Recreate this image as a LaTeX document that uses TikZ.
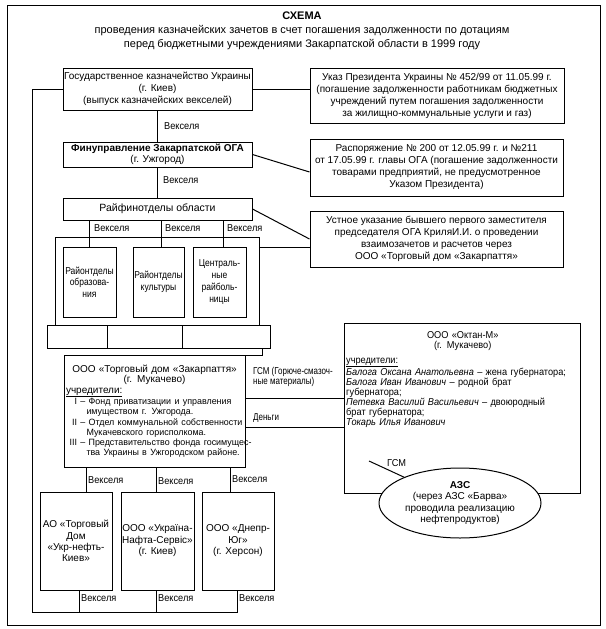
\documentclass[tikz,border=0pt]{standalone}
\usepackage{fontspec}
\setmainfont{Liberation Sans}
\newfontfamily\nf[FakeStretch=0.85]{Liberation Sans}
\newfontfamily\tf[FakeStretch=0.8]{Liberation Sans}
\newfontfamily\wf[FakeStretch=0.98]{Liberation Sans}
\newfontfamily\of[FakeStretch=0.92]{Liberation Sans}
\newfontfamily\vf[FakeStretch=0.92]{Liberation Sans}
\newcommand{\tdit}[1]{\mbox{\wf\fontsize{9.1}{10.25}\selectfont #1}}
\usetikzlibrary{shapes.geometric,calc}
\begin{document}
\begin{tikzpicture}[x=1pt,y=-1pt,
  every node/.style={inner sep=0pt, font=\fontsize{10}{12}\selectfont},
  box/.style={draw, line width=1pt, align=center, fill=white},
  lbl/.style={anchor=west, font=\vf\fontsize{10}{11}\selectfont},
  ln/.style={line width=1pt}
]
\useasboundingbox (0,0) rectangle (605,629);
\draw[ln] (7,5) rectangle (600,625);

\node[align=center, font=\fontsize{11}{14}\selectfont] (title) at (302,30.5)
  {\textbf{СХЕМА}\\проведения казначейских зачетов в счет погашения задолженности по дотациям\\перед бюджетными учреждениями Закарпатской области в 1999 году};

% left column
\node[box, minimum width=189, minimum height=42] (A) at (157.5,89)
  {Государственное казначейство Украины\\(г. Киев)\\(выпуск казначейских векселей)};
\node[box, minimum width=189, minimum height=25, font=\fontsize{10}{11}\selectfont] (F) at (157.5,154.5)
  {\textbf{Финуправление Закарпатской ОГА}\\(г. Ужгород)};
\node[box, minimum width=189, minimum height=22, font=\fontsize{10.5}{12}\selectfont] (R) at (157.5,209) {Райфинотделы области};

% right column
\node[box, minimum width=254, minimum height=55] (U) at (437,95.5)
  {Указ Президента Украины № 452/99 от 11.05.99 г.\\(погашение задолженности работникам бюджетных\\учреждений путем погашения задолженности\\за жилищно-коммунальные услуги и газ)};
\node[box, minimum width=253, minimum height=57] (Rs) at (436.5,167.5)
  {Распоряжение № 200 от 12.05.99 г. и №211\\от 17.05.99 г. главы ОГА (погашение задолженности\\товарами предприятий, не предусмотренное\\Указом Президента)};
\node[box, minimum width=253, minimum height=56] (Us) at (436.5,239)
  {Устное указание бывшего первого заместителя\\председателя ОГА КриляИ.И. о проведении\\взаимозачетов и расчетов через\\ООО «Торговый дом «Закарпаття»};

% group of budget institutions
\node[box, minimum width=204, minimum height=88] (G) at (157,281) {};
\node[box, minimum width=53, minimum height=70, font=\nf\fontsize{10}{11.5}\selectfont] (B1) at (89.5,282) {Районтделы\\образова-\\ния};
\node[box, minimum width=51, minimum height=70, font=\nf\fontsize{10}{11.5}\selectfont] (B2) at (158.5,282) {Районтделы\\культуры};
\node[box, minimum width=53, minimum height=70, font=\nf\fontsize{10}{12}\selectfont] (B3) at (219.5,282) {Централь-\\ные\\райболь-\\ницы};
\node[box, minimum width=60, minimum height=23] (S1) at (77,336.5) {};
\node[box, minimum width=75, minimum height=23] (S2) at (144.5,336.5) {};
\node[box, minimum width=88, minimum height=23] (S3) at (226,336.5) {};

% trading house
\node[box, minimum width=181, minimum height=112, text width=177, align=left, font=\fontsize{10}{10.25}\selectfont] (TD) at (154.5,411.5)
  {\makebox[\linewidth]{ООО «Торговый дом «Закарпаття»}\\
   \makebox[\linewidth]{(г. Мукачево)}\\
   \underline{учредители:}\\
   \tdit{\makebox[11pt][r]{I} – Фонд приватизации и управления}\\
   \tdit{\hspace*{20.5pt}имуществом г. Ужгорода.}\\
   \tdit{\makebox[11pt][r]{II} – Отдел коммунальной собственности}\\
   \tdit{\hspace*{20.5pt}Мукачевского горисполкома.}\\
   \tdit{\makebox[11pt][r]{III} – Представительство фонда госимущес-}\\
   \tdit{\hspace*{20.5pt}тва Украины в Ужгородском районе.}};

% oil companies
\node[box, minimum width=72, minimum height=98, font=\fontsize{10}{11.3}\selectfont] (T1) at (76,541) {АО «Торговый\\Дом\\«Укр-нефть-\\Киев»};
\node[box, minimum width=73, minimum height=98, font=\fontsize{10}{11.5}\selectfont] (T2) at (157.5,541) {ООО «Україна-\\Нафта-Сервіс»\\(г. Киев)};
\node[box, minimum width=72, minimum height=98, font=\fontsize{10}{11.5}\selectfont] (T3) at (238,541) {ООО «Днепр-\\Юг»\\(г. Херсон)};

% Oktan-M
\node[box, minimum width=236, minimum height=170] (Ok) at (462,408) {};
\node[anchor=north west, text width=233, align=left, font=\of\fontsize{10}{10}\selectfont] (oktext) at (346,331)
  {\makebox[\linewidth]{ООО «Октан-М»}\\
   \makebox[\linewidth]{(г. Мукачево)}\\[5pt]
   \underline{учредители:}\\
   \textit{Балога Оксана Анатольевна} – жена губернатора;\\
   \textit{Балога Иван Иванович} – родной брат\\
   губернатора;\\
   \textit{Петевка Василий Васильевич} – двоюродный\\
   брат губернатора;\\
   \textit{Токарь Илья Иванович}};
\node[draw, line width=1pt, fill=white, ellipse, minimum width=162, minimum height=70, align=center, font=\fontsize{10}{11.3}\selectfont] (AZS) at (460,503)
  {\textbf{АЗС}\\(через АЗС «Барва»\\проводила реализацию\\нефтепродуктов)};

% connectors
\draw[ln] (A.east) -- (A.east -| U.west);
\coordinate (bl) at (32,612);
\draw[ln] (A.west) -| (bl);
\draw[ln] ([xshift=-1pt]T3.south) |- (bl);
\draw[ln] ([xshift=3pt]T1.south) -- ([xshift=3pt]T1.south |- bl);
\draw[ln] ([xshift=-1.5pt]T2.south) -- ([xshift=-1.5pt]T2.south |- bl);
\node[lbl] (v1) at (81,598) {Векселя};
\node[lbl] (v2) at (158,598) {Векселя};
\node[lbl] (v3) at (239,598) {Векселя};

\draw[ln] (A.south) -- (F.north);
\node[lbl] (v4) at (164,126) {Векселя};
\draw[ln] (F.south) -- (R.north);
\node[lbl] (v5) at (163,180) {Векселя};
\draw[ln] (F.east) -- ([yshift=-4.5pt]Rs.west);
\draw[ln] (R.east) -- (Us.west);
\path (G.east) ++(0,-34) coordinate (g1);
\draw[ln] (g1) -- (g1 -| Us.west);

\draw[ln] (B1.north) -- (B1.north |- R.south);
\draw[ln] ([xshift=2.5pt]B2.north) -- ([xshift=2.5pt]B2.north |- R.south);
\draw[ln] ([xshift=3.5pt]B3.north) -- ([xshift=3.5pt]B3.north |- R.south);
\node[lbl] (v6) at (94,228) {Векселя};
\node[lbl] (v7) at (165,228) {Векселя};
\node[lbl] (v8) at (227,228) {Векселя};

\draw[ln] (S3.south -| 262,0) |- (TD.north east);

\path ([yshift=13.5pt]TD.east) coordinate (gsm1);
\draw[ln] (gsm1) -- (gsm1 -| Ok.west);
\path ([yshift=-15.5pt]TD.east) coordinate (den1);
\draw[ln] (den1) -- (den1 -| Ok.west);
\node[lbl, align=left, font=\tf\fontsize{10}{10.5}\selectfont] (lgsm) at (253,377) {ГСМ (Горюче-смазоч-\\ные материалы)};
\node[lbl, font=\tf\fontsize{10}{10.5}\selectfont] (lden) at (253,418) {Деньги};

\draw[ln] (T1.north -| 86,0) -- (TD.south -| 86,0);
\draw[ln] (T2.north -| 156,0) -- (TD.south -| 156,0);
\draw[ln] (T3.north -| 230,0) -- (TD.south -| 230,0);
\node[lbl] (v9) at (88,480) {Векселя};
\node[lbl] (v10) at (158,481) {Векселя};
\node[lbl] (v11) at (232,479) {Векселя};

\coordinate (gs) at (369,461);
\draw[ln] (gs) -- (AZS);
\node[lbl] (lgsm2) at (387,463) {ГСМ};
\end{tikzpicture}
\end{document}
